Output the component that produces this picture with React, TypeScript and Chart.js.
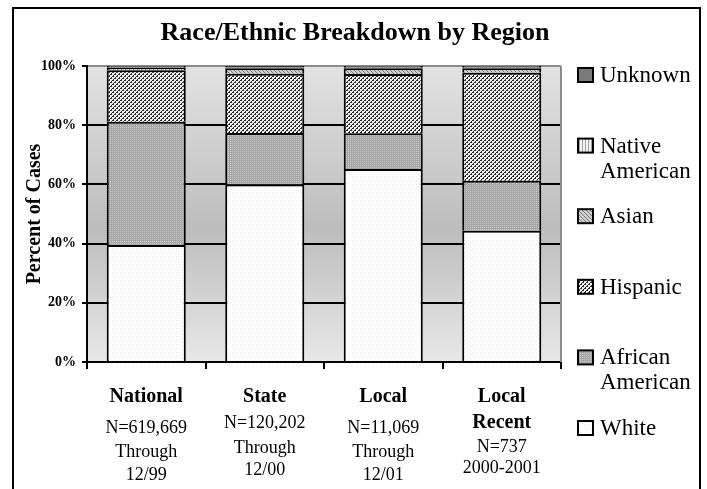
import React, { useEffect, useRef } from 'react';
import { Chart, registerables } from 'chart.js';

Chart.register(...registerables);

// ---------- data ----------
const chartTitle = 'Race/Ethnic Breakdown by Region';
const yAxisTitle = 'Percent of Cases';
const categories = ['National', 'State', 'Local', 'Local Recent'];
const categoryHeadings = [['National'], ['State'], ['Local'], ['Local', 'Recent']];
const categoryNotes = [
  ['N=619,669', 'Through', '12/99'],
  ['N=120,202', 'Through', '12/00'],
  ['N=11,069', 'Through', '12/01'],
  ['N=737', '2000-2001'],
];
const yTickValues = [0, 20, 40, 60, 80, 100];
const seriesNames = ['White', 'African American', 'Hispanic', 'Asian', 'Native American', 'Unknown'];
const whiteValues = [39.5, 60.0, 65.2, 44.3];
const africanAmericanValues = [41.7, 17.4, 12.1, 16.9];
const hispanicValues = [17.4, 20.0, 20.0, 36.5];
const asianValues = [0.7, 1.8, 1.9, 1.5];
const nativeAmericanValues = [0.3, 0.3, 0.4, 0.4];
const unknownValues = [0.4, 0.5, 0.4, 0.4];
const seriesValues = [whiteValues, africanAmericanValues, hispanicValues, asianValues, nativeAmericanValues, unknownValues];

// ---------- styling ----------
const SERIF = "'Liberation Serif', 'Times New Roman', serif";
// baselines of the category label lines, below the plot bottom
const LABEL_BASELINES = [
  [40, 71, 95, 118],
  [40, 66, 91, 113],
  [40, 71, 95, 118],
  [40, 66, 90, 111],
];

type Painter = (x: number, y: number) => string;

function makePattern(ctx: CanvasRenderingContext2D, size: number, paint: Painter): CanvasPattern | string {
  const c = document.createElement('canvas');
  c.width = size;
  c.height = size;
  const p = c.getContext('2d')!;
  for (let y = 0; y < size; y++) {
    for (let x = 0; x < size; x++) {
      p.fillStyle = paint(x, y);
      p.fillRect(x, y, 1, 1);
    }
  }
  return ctx.createPattern(c, 'repeat') || '#999';
}

export default function App() {
  const canvasRef = useRef<HTMLCanvasElement | null>(null);

  useEffect(() => {
    const canvas = canvasRef.current!;
    const ctx0 = canvas.getContext('2d')!;

    const fills = [
      makePattern(ctx0, 4, (x, y) => ((x === 0 && y === 0) || (x === 2 && y === 2) ? '#ececec' : '#ffffff')),
      makePattern(ctx0, 4, (x, y) => (y % 2 === 1 && x % 2 === 0 ? '#cdcdcd' : '#a6a6a6')),
      makePattern(ctx0, 4, (x, y) => ((x + y) % 4 === 0 || ((x + y) % 4 === 1 && y % 2 === 0) ? '#2a2a2a' : '#f0f0f0')),
      makePattern(ctx0, 4, (x, y) => ((x - y + 8) % 4 === 0 ? '#7a7a7a' : '#cfcfcf')),
      makePattern(ctx0, 3, (x) => (x === 0 ? '#a0a0a0' : '#f4f4f4')),
      '#7a7a7a',
    ];

    const decor = {
      id: 'decor',
      beforeDraw(chart: any) {
        const { ctx, chartArea: a, width, height } = chart;
        ctx.save();
        ctx.fillStyle = '#ffffff';
        ctx.fillRect(0, 0, width, height);
        const g = ctx.createLinearGradient(0, a.top, 0, a.bottom);
        g.addColorStop(0, '#e2e2e2');
        g.addColorStop(0.55, '#bdbdbd');
        g.addColorStop(1, '#e8e8e8');
        ctx.fillStyle = g;
        ctx.fillRect(a.left, a.top, a.right - a.left, a.bottom - a.top);
        ctx.restore();
      },
      afterDraw(chart: any) {
        const { ctx, chartArea: a } = chart;
        const xs = chart.scales.x;
        ctx.save();
        // right edge of plot
        ctx.strokeStyle = '#8c8c8c';
        ctx.lineWidth = 2;
        ctx.beginPath();
        ctx.moveTo(a.right, a.top);
        ctx.lineTo(a.right, a.bottom);
        ctx.stroke();

        // outer frame
        ctx.strokeStyle = '#000';
        ctx.lineWidth = 2;
        ctx.strokeRect(13, 8, 687, 600);

        // title
        ctx.fillStyle = '#000';
        ctx.textAlign = 'center';
        ctx.textBaseline = 'alphabetic';
        ctx.font = `bold 26px ${SERIF}`;
        ctx.fillText(chartTitle, 355, 40);

        // category labels
        categories.forEach((_, i) => {
          const cx = xs.getPixelForValue(i);
          const lines = [
            ...categoryHeadings[i].map((t) => ({ t, bold: true })),
            ...categoryNotes[i].map((t) => ({ t, bold: false })),
          ];
          lines.forEach((ln, k) => {
            ctx.font = ln.bold ? `bold 20px ${SERIF}` : `18px ${SERIF}`;
            ctx.fillText(ln.t, cx, a.bottom + LABEL_BASELINES[i][k]);
          });
        });

        // legend
        ctx.textAlign = 'left';
        ctx.font = `23px ${SERIF}`;
        const order = seriesNames.map((_, i) => i).reverse();
        order.forEach((si, j) => {
          const base = 82 + j * 70.6;
          ctx.fillStyle = fills[si] as any;
          ctx.fillRect(578, base - 14, 15, 14);
          ctx.strokeStyle = '#000';
          ctx.lineWidth = 2;
          ctx.strokeRect(578, base - 14, 15, 14);
          ctx.fillStyle = '#000';
          const words = seriesNames[si].split(' ');
          words.forEach((w, k) => ctx.fillText(w, 600, base + k * 25));
        });
        ctx.restore();
      },
    };

    const chart = new Chart(canvas, {
      type: 'bar',
      data: {
        labels: categories,
        datasets: seriesNames.map((name, i) => ({
          label: name,
          data: seriesValues[i],
          backgroundColor: fills[i] as any,
          borderColor: '#000',
          borderWidth: 2,
          borderSkipped: 'start',
          barPercentage: 0.667,
          categoryPercentage: 1,
        })),
      },
      options: {
        responsive: false,
        animation: false,
        devicePixelRatio: 1,
        layout: { padding: { left: 14, top: 66, right: 146, bottom: 117 } },
        plugins: {
          legend: { display: false },
          title: { display: false },
          tooltip: { enabled: false },
        },
        scales: {
          x: {
            stacked: true,
            offset: true,
            grid: {
              display: true,
              drawOnChartArea: false,
              drawTicks: true,
              tickLength: 7,
              color: '#000',
              lineWidth: 2,
              offset: true,
            },
            border: { display: true, color: '#000', width: 2 },
            ticks: { display: false },
            afterFit: (s: any) => {
              s.height = 10;
            },
          },
          y: {
            stacked: true,
            min: 0,
            max: 100,
            afterBuildTicks: (s: any) => {
              s.ticks = yTickValues.map((v) => ({ value: v }));
            },
            ticks: {
              callback: (v: any) => `${v}%`,
              color: '#000',
              font: { family: SERIF, size: 14, weight: 'bold' },
              padding: 6,
            },
            grid: {
              color: (c: any) => (c.tick && c.tick.value === 100 ? '#8c8c8c' : '#000'),
              tickColor: '#000',
              lineWidth: 2,
              tickLength: 5,
            },
            border: { display: true, color: '#000', width: 2 },
            title: {
              display: true,
              text: yAxisTitle,
              color: '#000',
              font: { family: SERIF, size: 20, weight: 'bold' },
              padding: { top: 9, bottom: 0 },
            },
            afterFit: (s: any) => {
              s.width = 73;
            },
          },
        },
      },
      plugins: [decor],
    } as any);

    return () => chart.destroy();
  }, []);

  return (
    <div style={{ position: 'absolute', left: 0, top: 0, width: 707, height: 489 }}>
      <canvas ref={canvasRef} width={707} height={489} style={{ display: 'block' }} />
    </div>
  );
}
